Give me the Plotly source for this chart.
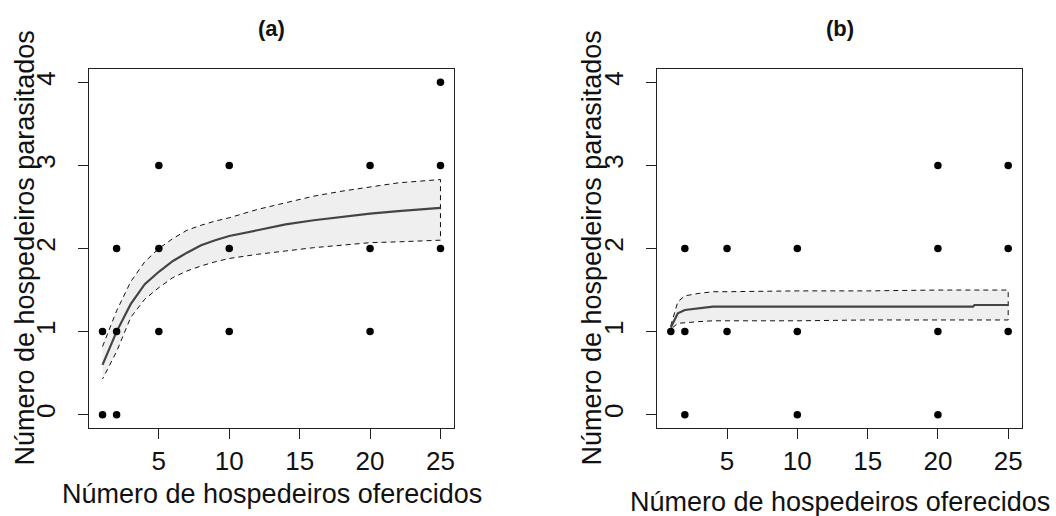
import plotly.graph_objects as go

# ---- data ----
# Panel (a): observed points
a_x = [1, 1, 2, 2, 2, 5, 5, 5, 10, 10, 10, 20, 20, 20, 25, 25, 25]
a_y = [1, 0, 2, 1, 0, 3, 2, 1, 3, 2, 1, 3, 2, 1, 4, 3, 2]
# Panel (a): fitted curve and confidence band
a_cx = [1, 2, 3, 4, 5, 6, 7, 8, 9, 10, 12, 14, 16, 18, 20, 22, 25]
a_fit = [0.60, 1.00, 1.33, 1.57, 1.72, 1.85, 1.95, 2.04, 2.10, 2.15, 2.22, 2.29, 2.34, 2.38, 2.42, 2.45, 2.49]
a_up = [0.82, 1.25, 1.60, 1.84, 2.00, 2.12, 2.22, 2.28, 2.33, 2.37, 2.47, 2.55, 2.63, 2.69, 2.74, 2.79, 2.83]
a_lo = [0.43, 0.76, 1.17, 1.39, 1.53, 1.65, 1.73, 1.79, 1.84, 1.88, 1.93, 1.97, 2.01, 2.04, 2.07, 2.08, 2.10]

# Panel (b): observed points
b_x = [1, 2, 2, 2, 5, 5, 10, 10, 10, 20, 20, 20, 20, 25, 25, 25]
b_y = [1, 2, 1, 0, 2, 1, 2, 1, 0, 3, 2, 1, 0, 3, 2, 1]
# Panel (b): fitted curve and confidence band
b_cx = [1, 1.5, 2, 3, 4, 5, 10, 15, 20, 22.5, 22.6, 25]
b_fit = [1.05, 1.22, 1.26, 1.28, 1.30, 1.30, 1.30, 1.30, 1.30, 1.30, 1.32, 1.32]
b_up = [1.07, 1.36, 1.43, 1.46, 1.48, 1.48, 1.49, 1.49, 1.50, 1.50, 1.50, 1.50]
b_lo = [1.03, 1.10, 1.11, 1.12, 1.13, 1.13, 1.13, 1.14, 1.14, 1.14, 1.14, 1.14]

x_ticks = [5, 10, 15, 20, 25]
y_ticks = [0, 1, 2, 3, 4]
titles = ["(a)", "(b)"]
x_title = "Número de hospedeiros oferecidos"
y_title = "Número de hospedeiros parasitados"

FONT = "Liberation Sans, Arial, sans-serif"
W, H = 1056, 516

fig = go.Figure()

panels = [
    (a_x, a_y, a_cx, a_fit, a_up, a_lo, "x", "y"),
    (b_x, b_y, b_cx, b_fit, b_up, b_lo, "x2", "y2"),
]
for px, py, cx, fit, up, lo, xa, ya in panels:
    fig.add_trace(go.Scatter(
        x=cx + cx[::-1], y=up + lo[::-1], xaxis=xa, yaxis=ya,
        mode="lines", fill="toself", fillcolor="#efefef",
        line=dict(color="#111111", width=1, dash="5px,4px"),
        showlegend=False, hoverinfo="skip"))
    fig.add_trace(go.Scatter(
        x=cx, y=fit, xaxis=xa, yaxis=ya, mode="lines",
        line=dict(color="#444444", width=2.2),
        showlegend=False))
    fig.add_trace(go.Scatter(
        x=px, y=py, xaxis=xa, yaxis=ya, mode="markers",
        marker=dict(color="black", size=7.5),
        showlegend=False))

x_dom = [[89 / W, 454 / W], [657.3 / W, 1021.7 / W]]
y_dom = [1 - 428 / H, 1 - 69 / H]

axis_common = dict(
    showline=True, mirror=True, linecolor="#222222", linewidth=1,
    ticks="outside", ticklen=10, tickcolor="#222222", tickwidth=1,
    showgrid=False, zeroline=False,
    tickfont=dict(family=FONT, size=26, color="#111111"),
)

fig.update_layout(
    width=W, height=H,
    margin=dict(l=0, r=0, t=0, b=0),
    paper_bgcolor="white", plot_bgcolor="white",
    xaxis=dict(domain=x_dom[0], range=[0.04, 25.96], tickvals=x_ticks,
               anchor="y", ticklabelstandoff=0, **axis_common),
    yaxis=dict(domain=y_dom, range=[-0.16, 4.16], tickvals=y_ticks,
               anchor="x", tickangle=-90, ticklabelstandoff=13, **axis_common),
    xaxis2=dict(domain=x_dom[1], range=[0.04, 25.96], tickvals=x_ticks,
                anchor="y2", ticklabelstandoff=0, **axis_common),
    yaxis2=dict(domain=y_dom, range=[-0.16, 4.16], tickvals=y_ticks,
                anchor="x2", tickangle=-90, ticklabelstandoff=13, **axis_common),
)

ann = []
centers = [(89 + 454) / 2, (657.3 + 1021.7) / 2]
ytitle_x = [25, 592]
xtitle_y = [494, 502]
for i in range(2):
    ann.append(dict(text="<b>%s</b>" % titles[i], x=centers[i] / W, y=1 - 29 / H,
                    xref="paper", yref="paper", showarrow=False,
                    xanchor="center", yanchor="middle",
                    font=dict(family=FONT, size=22, color="#111111")))
    ann.append(dict(text=x_title, x=centers[i] / W, y=1 - xtitle_y[i] / H,
                    xref="paper", yref="paper", showarrow=False,
                    xanchor="center", yanchor="middle",
                    font=dict(family=FONT, size=27, color="#111111")))
    ann.append(dict(text=y_title, x=ytitle_x[i] / W, y=1 - 248.5 / H,
                    xref="paper", yref="paper", showarrow=False, textangle=-90,
                    xanchor="center", yanchor="middle",
                    font=dict(family=FONT, size=27, color="#111111")))
fig.update_layout(annotations=ann)

fig.write_html("out.html")
